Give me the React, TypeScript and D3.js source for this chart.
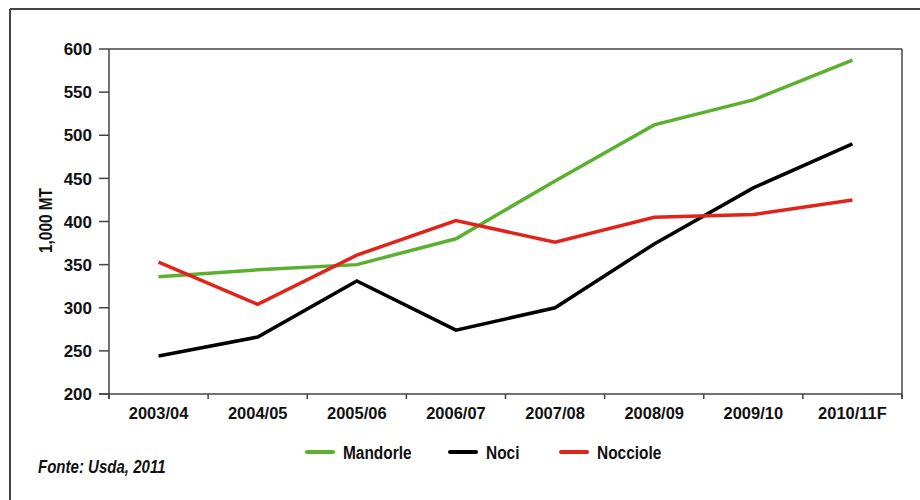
import React from "react";
import * as d3 from "d3";

const categories = ["2003/04", "2004/05", "2005/06", "2006/07", "2007/08", "2008/09", "2009/10", "2010/11F"];
const mandorle = [336, 344, 350, 380, 447, 512, 541, 587];
const noci = [244, 266, 331, 274, 300, 374, 439, 490];
const nocciole = [353, 304, 361, 401, 376, 405, 408, 425];
const yTicks = [200, 250, 300, 350, 400, 450, 500, 550, 600];
const seriesNames = ["Mandorle", "Noci", "Nocciole"];
const seriesColors = ["#5bb030", "#000000", "#e2231a"];

const W = 920;
const H = 500;
const M = { left: 109, right: 902, top: 49, bottom: 394 };
const FONT = "'Liberation Sans', Arial, sans-serif";

function T(props: {
  x: number;
  y: number;
  sx?: number;
  size: number;
  anchor?: string;
  rotate?: number;
  italic?: boolean;
  dy?: string;
  children: React.ReactNode;
}) {
  const { x, y, sx = 1, size, anchor = "start", rotate = 0, italic = false, dy } = props;
  return (
    <text
      transform={`translate(${x},${y}) rotate(${rotate}) scale(${sx},1)`}
      textAnchor={anchor}
      fontSize={size}
      fontWeight="bold"
      fontStyle={italic ? "italic" : "normal"}
      fill="#111"
      dy={dy}
    >
      {props.children}
    </text>
  );
}

export default function App() {
  const x = d3.scaleBand<string>().domain(categories).range([M.left, M.right]);
  const y = d3.scaleLinear().domain([200, 600]).range([M.bottom, M.top]);
  const series = [mandorle, noci, nocciole];
  const line = d3
    .line<number>()
    .x((_, i) => (x(categories[i]) as number) + x.bandwidth() / 2)
    .y((v) => y(v));
  const bandEdges = categories.map((c) => x(c) as number).concat([M.right]);
  const legendX = [307, 450, 561];

  return (
    <svg
      width={W}
      height={H}
      style={{ position: "absolute", left: 0, top: 0, background: "#fff" }}
      fontFamily={FONT}
    >
      {/* outer frame */}
      <line x1={10} y1={9} x2={W} y2={9} stroke="#444" strokeWidth={2} />
      <line x1={10} y1={9} x2={10} y2={H} stroke="#444" strokeWidth={2} />

      {/* plot box */}
      <line x1={M.left} y1={M.top} x2={M.right} y2={M.top} stroke="#444" strokeWidth={1.5} />
      <line x1={M.right} y1={M.top} x2={M.right} y2={M.bottom + 5} stroke="#444" strokeWidth={1.5} />
      <line x1={M.left} y1={M.top} x2={M.left} y2={M.bottom + 5} stroke="#444" strokeWidth={1.5} />
      <line x1={M.left - 10} y1={M.bottom} x2={M.right} y2={M.bottom} stroke="#444" strokeWidth={1.5} />

      {/* y ticks */}
      {yTicks.map((t) => (
        <g key={t}>
          <line x1={M.left - 10} x2={M.left} y1={y(t)} y2={y(t)} stroke="#444" strokeWidth={1.5} />
          <T x={M.left - 17} y={y(t)} dy="0.36em" anchor="end" size={17}>
            {t}
          </T>
        </g>
      ))}

      {/* x ticks */}
      {bandEdges.map((e, i) => (
        <line key={i} x1={e} x2={e} y1={M.bottom} y2={M.bottom + 5} stroke="#444" strokeWidth={1.5} />
      ))}
      {categories.map((c) => (
        <T key={c} x={(x(c) as number) + x.bandwidth() / 2} y={419} anchor="middle" size={17} sx={0.97}>
          {c}
        </T>
      ))}

      {/* y label */}
      <T x={52} y={220.5} rotate={-90} anchor="middle" size={17.5} sx={0.88}>
        1,000 MT
      </T>

      {/* lines */}
      {series.map((s, i) => (
        <path
          key={seriesNames[i]}
          d={line(s) as string}
          fill="none"
          stroke={seriesColors[i]}
          strokeWidth={3.5}
          strokeLinejoin="miter"
        />
      ))}

      {/* legend */}
      {seriesNames.map((n, i) => (
        <g key={n}>
          <line
            x1={legendX[i]}
            x2={legendX[i] + 26}
            y1={452}
            y2={452}
            stroke={seriesColors[i]}
            strokeWidth={4}
            strokeLinecap="round"
          />
          <T x={legendX[i] + 36} y={459} size={18.6} sx={0.83}>
            {n}
          </T>
        </g>
      ))}

      {/* source */}
      <T x={38} y={473} size={17.7} sx={0.85} italic>
        Fonte: Usda, 2011
      </T>
    </svg>
  );
}
